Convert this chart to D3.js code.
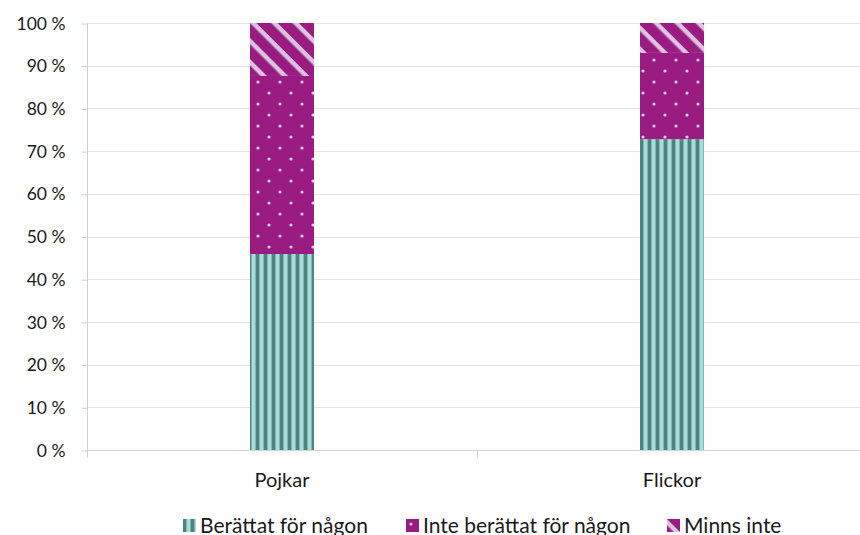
<!DOCTYPE html>
<html>
<head>
<meta charset="utf-8">
<script src="https://cdn.jsdelivr.net/npm/d3@7"></script>
<style>
  body { margin: 0; background: #fff; }
  text { font-family: Lato, "Open Sans", sans-serif; fill: #1a1a1a; }
</style>
</head>
<body>
<div id="chart"></div>
<script>
"use strict";

//data
var categories = ["Pojkar", "Flickor"];
var seriesNames = ["Berättat för någon", "Inte berättat för någon", "Minns inte"];
var berattat = [45.9, 72.8];
var inteBerattat = [41.7, 20.2];
var minnsInte = [12.4, 7.0];
var yTicks = [0, 10, 20, 30, 40, 50, 60, 70, 80, 90, 100];

var width = 860, height = 535;
var margin = {top: 23, right: -7, bottom: 85, left: 87};

var svg = d3.select("#chart").append("svg")
  .attr("width", width).attr("height", height);

//patterns for the three series
var defs = svg.append("defs");

var stripes = defs.append("pattern").attr("id", "pat0")
  .attr("patternUnits", "userSpaceOnUse").attr("width", 8).attr("height", 8);
stripes.append("rect").attr("width", 8).attr("height", 8).attr("fill", "#4d8381");
stripes.append("rect").attr("x", 3).attr("width", 1).attr("height", 8).attr("fill", "#7fb5b2");
stripes.append("rect").attr("x", 4).attr("width", 3).attr("height", 8).attr("fill", "#a9dcd8");
stripes.append("rect").attr("x", 7).attr("width", 1).attr("height", 8).attr("fill", "#7fb5b2");

var dots = defs.append("pattern").attr("id", "pat1")
  .attr("patternUnits", "userSpaceOnUse").attr("width", 22).attr("height", 22);
dots.append("rect").attr("width", 22).attr("height", 22).attr("fill", "#9a1c82");
dots.append("circle").attr("cx", 5).attr("cy", 5).attr("r", 1.6).attr("fill", "#eccfe6");
dots.append("circle").attr("cx", 16).attr("cy", 16).attr("r", 1.6).attr("fill", "#eccfe6");

var diag = defs.append("pattern").attr("id", "pat2")
  .attr("patternUnits", "userSpaceOnUse").attr("width", 15).attr("height", 15)
  .attr("patternTransform", "rotate(45)");
diag.append("rect").attr("width", 15).attr("height", 15).attr("fill", "#9a1c82");
diag.append("rect").attr("y", 0).attr("width", 15).attr("height", 4.5).attr("fill", "#dcc3e0");

var x = d3.scaleBand()
  .domain(categories)
  .range([margin.left, width - margin.right]);

var y = d3.scaleLinear()
  .domain([0, 100])
  .range([height - margin.bottom, margin.top]);

//gridlines
svg.append("g").selectAll("line")
  .data(yTicks.filter(function(t){ return t > 0; }))
  .enter().append("line")
  .attr("x1", margin.left).attr("x2", width)
  .attr("y1", function(t){ return Math.round(y(t)) + 0.5; })
  .attr("y2", function(t){ return Math.round(y(t)) + 0.5; })
  .attr("stroke", "#e3e3e3");

//y axis
var yAxis = svg.append("g")
  .attr("transform", "translate(" + (margin.left + 0.5) + ",0.5)")
  .call(d3.axisLeft(y).tickValues(yTicks).tickSize(6).tickPadding(16)
    .tickFormat(function(d){ return d + " %"; }));
yAxis.select(".domain").attr("stroke", "#d0d0d0").attr("d", "M0," + y(0) + "V" + y(100));
yAxis.selectAll(".tick line").attr("stroke", "#d0d0d0");
yAxis.selectAll(".tick text").attr("font-size", 17.5).attr("fill", "#1a1a1a")
  .attr("font-family", "Lato, sans-serif");

//x axis
var xAxisG = svg.append("g").attr("transform", "translate(0," + (Math.round(y(0)) + 0.5) + ")");
xAxisG.append("line").attr("x1", margin.left).attr("x2", width)
  .attr("stroke", "#d0d0d0");
var bandEdges = [margin.left, margin.left + x.step(), margin.left + 2 * x.step()];
xAxisG.selectAll(".xt").data(bandEdges).enter().append("line")
  .attr("x1", function(d){ return Math.round(d) + 0.5; })
  .attr("x2", function(d){ return Math.round(d) + 0.5; })
  .attr("y1", 0).attr("y2", 7).attr("stroke", "#d0d0d0");
xAxisG.selectAll(".xl").data(categories).enter().append("text")
  .attr("x", function(c){ return x(c) + x.bandwidth() / 2; })
  .attr("y", 36)
  .attr("text-anchor", "middle")
  .attr("font-size", 20)
  .text(function(c){ return c; });

//stacked bars
var rows = categories.map(function(c, i){
  return {cat: c, s0: berattat[i], s1: inteBerattat[i], s2: minnsInte[i]};
});
var stack = d3.stack().keys(["s0", "s1", "s2"]);
var layers = stack(rows);
var barW = 64;

svg.append("g").selectAll("g")
  .data(layers)
  .enter().append("g")
  .attr("fill", function(d, i){ return "url(#pat" + i + ")"; })
  .selectAll("rect")
  .data(function(d){ return d; })
  .enter().append("rect")
  .attr("x", function(d){ return x(d.data.cat) + x.bandwidth() / 2 - barW / 2; })
  .attr("y", function(d){ return y(Math.min(d[1], 100)); })
  .attr("width", barW)
  .attr("height", function(d){ return y(d[0]) - y(Math.min(d[1], 100)); });

//legend
var legendX = [183, 406, 667];
var legend = svg.append("g").selectAll("g")
  .data(seriesNames)
  .enter().append("g")
  .attr("transform", function(d, i){ return "translate(" + legendX[i] + ",519)"; });
legend.append("rect")
  .attr("width", 13).attr("height", 13)
  .attr("fill", function(d, i){ return "url(#pat" + i + ")"; });
legend.append("text")
  .attr("x", 17).attr("y", 13.5)
  .attr("font-size", 21)
  .text(function(d){ return d; });
</script>
</body>
</html>
